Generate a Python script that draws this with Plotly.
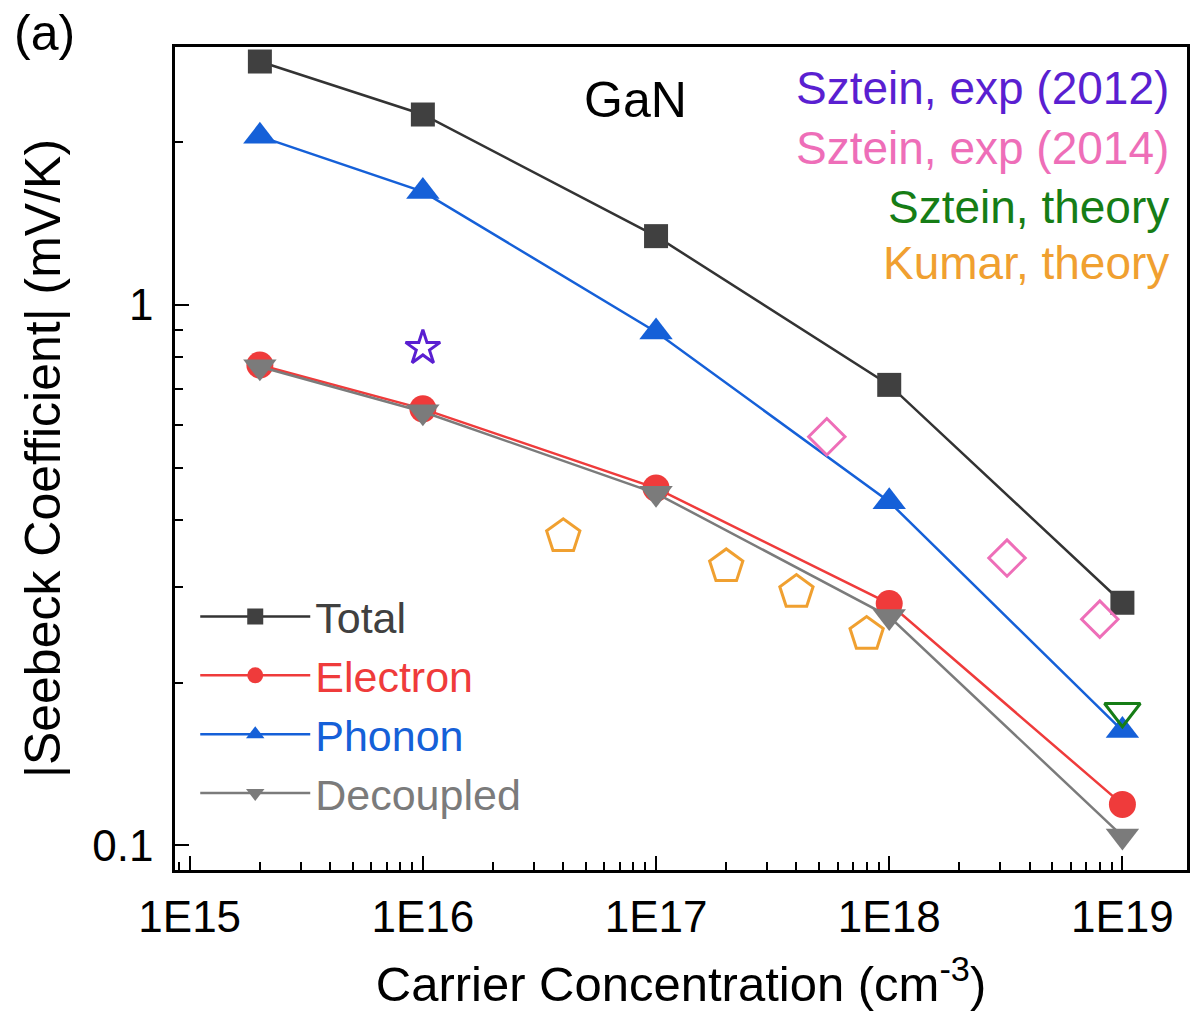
import plotly.graph_objects as go

# Carrier concentration (cm^-3) for the calculated series
conc = [2e15, 1e16, 1e17, 1e18, 1e19]

# |Seebeck coefficient| in mV/K
total = [2.82, 2.25, 1.34, 0.711, 0.281]
electron = [0.774, 0.642, 0.458, 0.280, 0.119]
phonon = [2.05, 1.62, 0.891, 0.432, 0.163]
decoupled = [0.768, 0.634, 0.448, 0.265, 0.104]

# Literature values
sztein2012_x = [1e16]
sztein2012_y = [0.832]
sztein2014_x = [5.4e17, 3.2e18, 8.0e18]
sztein2014_y = [0.570, 0.340, 0.262]
sztein_theory_x = [1e19]
sztein_theory_y = [0.177]
kumar_x = [4e16, 2e17, 4e17, 8e17]
kumar_y = [0.373, 0.328, 0.294, 0.246]

xtick_vals = [1e15, 1e16, 1e17, 1e18, 1e19]
xtick_text = ["1E15", "1E16", "1E17", "1E18", "1E19"]
ytick_vals = [0.1, 1]
ytick_text = ["0.1", "1"]

FONT = "Arial, Liberation Sans, sans-serif"

C_TOTAL = "#404040"
C_ELEC = "#ef3b3b"
C_PHON = "#1560d8"
C_DEC = "#7b7b7b"
C_2012 = "#5a1fd1"
C_2014 = "#ee6eb8"
C_THEO = "#167d16"
C_KUMAR = "#f0a030"

fig = go.Figure()

series = [
    ("Total", total, C_TOTAL, "#333333", "square", 24),
    ("Electron", electron, C_ELEC, C_ELEC, "circle", 27),
    ("Phonon", phonon, C_PHON, C_PHON, "triangle-up", 29),
    ("Decoupled", decoupled, C_DEC, C_DEC, "triangle-down", 29),
]
for name, vals, mcol, lcol, sym, size in series:
    fig.add_trace(go.Scatter(
        x=conc, y=vals, mode="lines+markers",
        name=f"<span style='color:{mcol}'>{name}</span>",
        line=dict(color=lcol, width=2.5),
        marker=dict(symbol=sym, size=size, color=mcol, line=dict(width=0)),
    ))

refs = [
    (sztein2012_x, sztein2012_y, C_2012, "star-open", 26),
    (sztein2014_x, sztein2014_y, C_2014, "diamond-open", 28),
    (sztein_theory_x, sztein_theory_y, C_THEO, "triangle-down-open", 31),
    (kumar_x, kumar_y, C_KUMAR, "pentagon-open", 35),
]
for xs, ys, col, sym, size in refs:
    fig.add_trace(go.Scatter(
        x=xs, y=ys, mode="markers", showlegend=False,
        marker=dict(symbol=sym, size=size, color=col, line=dict(width=3, color=col)),
    ))

minor_vals = [k * 10.0 ** e for e in range(-2, 20) for k in range(2, 10)]

axis_common = dict(
    type="log",
    showgrid=False,
    zeroline=False,
    showline=True,
    linecolor="black",
    linewidth=2.5,
    mirror=True,
    ticks="inside",
    ticklen=14,
    tickwidth=2,
    tickcolor="black",
    tickfont=dict(family=FONT, size=44, color="black"),
    minor=dict(tickvals=minor_vals, ticks="inside", ticklen=8, tickwidth=2,
               tickcolor="black", showgrid=False),
)

fig.update_xaxes(
    **axis_common,
    range=[14.937, 19.277],
    tickmode="array", tickvals=xtick_vals, ticktext=xtick_text,
    ticklabelstandoff=6,
    title=dict(text="Carrier Concentration (cm<sup>-3</sup>)",
               font=dict(family=FONT, size=49, color="black"), standoff=28),
)
fig.update_yaxes(
    **axis_common,
    range=[-1.0458, 0.4771],
    tickmode="array", tickvals=ytick_vals, ticktext=ytick_text,
    ticklabelstandoff=10,
    title=dict(text="|Seebeck Coefficient| (mV/K)",
               font=dict(family=FONT, size=50, color="black"), standoff=16),
)

annotations = [
    dict(text="GaN", x=0.455, y=0.936, font=dict(size=50, color="black")),
    dict(text="(a)", x=-0.129, y=1.017, font=dict(size=50, color="black")),
    dict(text="Sztein, exp (2012)", x=0.984, y=0.950, xanchor="right",
         font=dict(size=46, color=C_2012)),
    dict(text="Sztein, exp (2014)", x=0.984, y=0.877, xanchor="right",
         font=dict(size=46, color=C_2014)),
    dict(text="Sztein, theory", x=0.984, y=0.806, xanchor="right",
         font=dict(size=46, color=C_THEO)),
    dict(text="Kumar, theory", x=0.984, y=0.738, xanchor="right",
         font=dict(size=46, color=C_KUMAR)),
]
for a in annotations:
    a.setdefault("xanchor", "center")
    a.update(xref="paper", yref="paper", yanchor="middle", showarrow=False)
    a["font"]["family"] = FONT
fig.update_layout(annotations=annotations)

fig.update_layout(
    width=1198, height=1020,
    margin=dict(l=175, r=8, t=47, b=150),
    paper_bgcolor="white", plot_bgcolor="white",
    font=dict(family=FONT),
    showlegend=True,
    legend=dict(
        x=0.02, y=0.35, xanchor="left", yanchor="top",
        bgcolor="rgba(0,0,0,0)",
        font=dict(family=FONT, size=43),
        itemsizing="trace",
        itemwidth=110,
        tracegroupgap=0,
    ),
)

fig.write_html("out.html")
